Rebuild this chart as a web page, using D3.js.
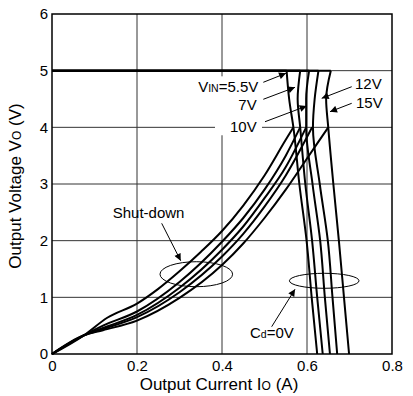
<!DOCTYPE html>
<html><head><meta charset="utf-8">
<script src="https://cdn.jsdelivr.net/npm/d3@7"></script>
<style>
html,body{margin:0;padding:0;background:#fff;}
svg text{font-family:"Liberation Sans",Arial,sans-serif;fill:#000;}
</style></head>
<body>
<svg id="c" width="413" height="396"></svg>
<script>
// ---------- data ----------
const seriesNames = ["5.5V", "7V", "10V", "12V", "15V"];
const xTicks = [0, 0.2, 0.4, 0.6, 0.8];
const xTickLabels = ["0", "0.2", "0.4", "0.6", "0.8"];
const yTicks = [0, 1, 2, 3, 4, 5, 6];
const yTickLabels = ["0", "1", "2", "3", "4", "5", "6"];

// current-limit (drop) lines: output current at these output voltages
const dropVoltages = [5, 4.5, 4, 3, 2, 1, 0];
const drop_5_5V = [0.552, 0.558, 0.568, 0.582, 0.599, 0.611, 0.624];
const drop_7V   = [0.584, 0.578, 0.584, 0.596, 0.612, 0.624, 0.637];
const drop_10V  = [0.605, 0.598, 0.598, 0.613, 0.631, 0.642, 0.654];
const drop_12V  = [0.627, 0.618, 0.614, 0.630, 0.649, 0.660, 0.671];
const drop_15V  = [0.656, 0.645, 0.650, 0.662, 0.675, 0.687, 0.699];

// shut-down curves: [current, voltage]
const sd_5_5V = [[0,0],[0.075,0.33],[0.13,0.64],[0.2,0.89],[0.25,1.15],[0.3,1.46],[0.35,1.8],[0.4,2.17],[0.45,2.62],[0.5,3.15],[0.55,3.78],[0.568,4.0]];
const sd_7V   = [[0,0],[0.075,0.33],[0.12,0.5],[0.2,0.75],[0.3,1.27],[0.4,1.98],[0.45,2.4],[0.5,2.9],[0.55,3.5],[0.584,4.0]];
const sd_10V  = [[0,0],[0.075,0.33],[0.12,0.46],[0.2,0.69],[0.3,1.17],[0.4,1.84],[0.45,2.25],[0.5,2.75],[0.55,3.3],[0.598,4.0]];
const sd_12V  = [[0,0],[0.075,0.33],[0.12,0.44],[0.2,0.65],[0.3,1.09],[0.4,1.72],[0.45,2.12],[0.5,2.6],[0.55,3.15],[0.612,4.0]];
const sd_15V  = [[0,0],[0.075,0.33],[0.12,0.42],[0.2,0.59],[0.3,0.99],[0.4,1.57],[0.45,1.95],[0.5,2.4],[0.55,2.9],[0.6,3.45],[0.65,4.0]];

const dropSets = [drop_5_5V, drop_7V, drop_10V, drop_12V, drop_15V];
const sdSets = [sd_5_5V, sd_7V, sd_10V, sd_12V, sd_15V];

// ---------- layout ----------
const svg = d3.select("#c");
const L = 52, R = 392, T = 14, B = 354;
const x = d3.scaleLinear().domain([0, 0.8]).range([L, R]);
const y = d3.scaleLinear().domain([0, 6]).range([B, T]);
const FS = 15;

// gridlines
const grid = svg.append("g");
grid.selectAll("line.gx").data(xTicks.slice(1, -1)).join("line")
  .attr("x1", d => x(d)).attr("x2", d => x(d)).attr("y1", T).attr("y2", B)
  .attr("stroke", "#333").attr("stroke-width", 1);
grid.selectAll("line.gy").data(yTicks.slice(1, -1)).join("line")
  .attr("y1", d => y(d)).attr("y2", d => y(d)).attr("x1", L).attr("x2", R)
  .attr("stroke", "#333").attr("stroke-width", 1);

// white boxes behind labels
function box(i0, v0, i1, v1) {
  svg.append("rect").attr("x", x(i0)).attr("y", y(v0))
    .attr("width", x(i1) - x(i0)).attr("height", y(v1) - y(v0)).attr("fill", "#fff");
}
box(0.3835, 4.9, 0.4941, 3.86);

// curves
const curvesG = svg.append("g").attr("fill", "none").attr("stroke", "#000").attr("stroke-width", 2)
  .attr("stroke-linejoin", "round");
const lineXY = d3.line().x(d => x(d[0])).y(d => y(d[1])).curve(d3.curveMonotoneX);
const lineDrop = d3.line().x(d => x(d[0])).y(d => y(d[1])).curve(d3.curveMonotoneY);
const lineFlat = d3.line().x(d => x(d[0])).y(d => y(d[1]));

dropSets.forEach(ds => {
  const pts = dropVoltages.map((v, i) => [ds[i], v]);
  curvesG.append("path").attr("d", lineFlat([[0, 5], [ds[0], 5]]));
  curvesG.append("path").attr("d", lineDrop(pts));
});
sdSets.forEach(s => {
  curvesG.append("path").attr("d", lineXY(s));
});

// frame
svg.append("rect").attr("x", L).attr("y", T).attr("width", R - L).attr("height", B - T)
  .attr("fill", "none").attr("stroke", "#000").attr("stroke-width", 1.5);

// axes (labels only, via d3 axis)
const xAxis = d3.axisBottom(x).tickValues(xTicks).tickFormat((d, i) => xTickLabels[i]).tickSize(0).tickPadding(6);
const gx = svg.append("g").attr("transform", `translate(0,${B})`).call(xAxis);
gx.select(".domain").remove();
gx.selectAll("text").attr("font-size", FS).attr("font-family", "Liberation Sans, Arial").attr("fill", "#000");

const yAxis = d3.axisLeft(y).tickValues(yTicks).tickFormat((d, i) => yTickLabels[i]).tickSize(0).tickPadding(4);
const gy = svg.append("g").attr("transform", `translate(${L},0)`).call(yAxis);
gy.select(".domain").remove();
gy.selectAll("text").attr("font-size", FS).attr("font-family", "Liberation Sans, Arial").attr("fill", "#000");

// axis titles
const xt = svg.append("text").attr("x", (L + R) / 2 - 3).attr("y", 390).attr("text-anchor", "middle").attr("font-size", 17);
xt.append("tspan").text("Output Current I");
xt.append("tspan").text("O").attr("font-size", 12);
xt.append("tspan").text(" (A)");

const yt = svg.append("text").attr("transform", `translate(21,${(T + B) / 2 + 2}) rotate(-90)`)
  .attr("text-anchor", "middle").attr("font-size", 17);
yt.append("tspan").text("Output Voltage V");
yt.append("tspan").text("O").attr("font-size", 12);
yt.append("tspan").text(" (V)");

// arrow marker
svg.append("defs").append("marker").attr("id", "ah").attr("viewBox", "0 0 10 10")
  .attr("refX", 10).attr("refY", 5).attr("markerWidth", 9).attr("markerHeight", 7)
  .attr("markerUnits", "userSpaceOnUse").attr("orient", "auto")
  .append("path").attr("d", "M0,0 L10,5 L0,10 Z").attr("fill", "#000");

function arrow(i0, v0, i1, v1) {
  svg.append("line").attr("x1", x(i0)).attr("y1", y(v0)).attr("x2", x(i1)).attr("y2", y(v1))
    .attr("stroke", "#000").attr("stroke-width", 1).attr("marker-end", "url(#ah)");
}
function ellipse(ci, cv, ri, rv) {
  svg.append("ellipse").attr("cx", x(ci)).attr("cy", y(cv))
    .attr("rx", x(ri) - x(0)).attr("ry", y(0) - y(rv))
    .attr("fill", "none").attr("stroke", "#000").attr("stroke-width", 1);
}

// VIN labels
const t1 = svg.append("text").attr("x", x(0.4854)).attr("y", y(4.629)).attr("text-anchor", "end").attr("font-size", FS);
t1.append("tspan").text("V");
t1.append("tspan").text("IN").attr("font-size", 10.5);
t1.append("tspan").text("=5.5V");
svg.append("text").attr("x", x(0.4816)).attr("y", y(4.306)).attr("text-anchor", "end").attr("font-size", FS).text("7V");
svg.append("text").attr("x", x(0.4816)).attr("y", y(3.923)).attr("text-anchor", "end").attr("font-size", FS).text("10V");
svg.append("text").attr("x", x(0.7129)).attr("y", y(4.671)).attr("font-size", FS).text("12V");
svg.append("text").attr("x", x(0.7153)).attr("y", y(4.346)).attr("font-size", FS).text("15V");
arrow(0.4972, 4.795, 0.5506, 4.954);
arrow(0.4972, 4.495, 0.5718, 4.706);
arrow(0.5012, 4.099, 0.5993, 4.376);
arrow(0.7052, 4.717, 0.6346, 4.512);
arrow(0.7052, 4.424, 0.6541, 4.276);

// Shut-down
const sdText = svg.append("text").attr("x", x(0.1428)).attr("y", y(2.395)).attr("font-size", FS).text("Shut-down");
arrow(0.2581, 2.306, 0.3028, 1.646);
ellipse(0.3395, 1.408, 0.0854, 0.2206);

// Cd=0V
const cd = svg.append("text").attr("x", x(0.4659)).attr("y", y(0.2876)).attr("font-size", FS);
cd.append("tspan").text("C");
cd.append("tspan").text("d").attr("font-size", 10.5);
cd.append("tspan").text("=0V");
arrow(0.5169, 0.4818, 0.5718, 1.142);
ellipse(0.6405, 1.292, 0.0819, 0.1324);
</script>
</body></html>
